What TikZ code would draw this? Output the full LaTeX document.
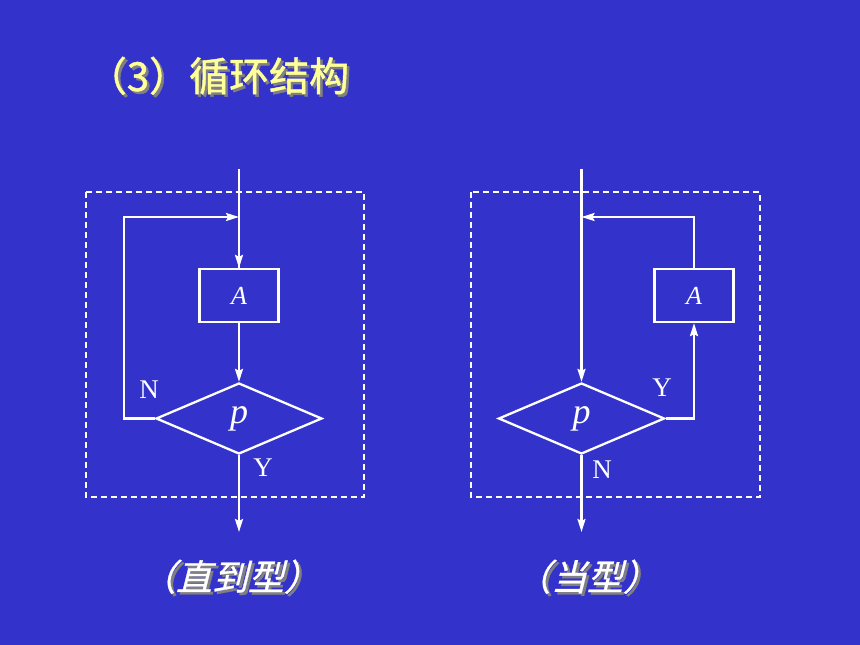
\documentclass[tikz,border=0pt]{standalone}
\usepackage{fontspec}
\setmainfont{Liberation Serif}
\newfontfamily\cjk[FakeBold=1.2]{Noto Sans CJK SC}
\newfontfamily\cjkit[FakeSlant=0.25,FakeBold=0.8]{Noto Sans CJK SC}
\usetikzlibrary{shapes.geometric,arrows.meta}
\definecolor{bgblue}{RGB}{51,51,204}
\definecolor{titleyellow}{RGB}{255,255,153}
\definecolor{shadowgray}{RGB}{128,128,128}
\newcommand{\shadowed}[2]{\makebox[0pt][l]{\hspace{2.5bp}\raisebox{-2.5bp}{\textcolor{shadowgray}{#2}}}\textcolor{#1}{#2}}
\tikzset{
  flow/.style={draw=white,line width=2.3bp},
  arr/.style={flow,-{Stealth[length=13bp,width=8bp,inset=2bp]}},
  procbox/.style={flow,rectangle,minimum width=79bp,minimum height=53bp,inner sep=0pt,text=white,font=\fontsize{26bp}{28bp}\selectfont\itshape},
  decide/.style={flow,diamond,minimum width=166bp,minimum height=71bp,inner sep=0pt,text=white,font=\fontsize{36bp}{38bp}\selectfont\itshape},
  yn/.style={text=white,inner sep=0pt,font=\fontsize{27bp}{29bp}\selectfont},
  frame/.style={draw=white,line width=1.6bp,dash pattern=on 6bp off 4bp},
  titletext/.style={inner sep=0pt,font=\cjk\fontsize{40bp}{42bp}\selectfont},
  captext/.style={inner sep=0pt,font=\cjkit\fontsize{36bp}{38bp}\selectfont},
}
\begin{document}
\begin{tikzpicture}[x=1bp,y=-1bp]
\fill[bgblue] (0,0) rectangle (860,645);
\useasboundingbox (0,0) rectangle (860,645);

% title
\node[titletext] (title) at (218,77) {\shadowed{titleyellow}{（3）循环结构}};

% captions
\node[captext] (c1) at (230,578) {\shadowed{white}{（直到型）}};
\node[captext] (c2) at (587,578) {\shadowed{white}{（当型）}};

% left diagram: do-until
\draw[frame] (86,192) rectangle (364,497);
\coordinate (L0) at (239,169);
\node[procbox] (A1) at (239,295.5) {A};
\node[decide] (p1) at (239,418.5) {p};
\coordinate (L1) at (124,217);
\coordinate (J1) at (239,217);
\coordinate (E1) at (239,532);
\draw[flow] (L0) -- (A1.north);
\draw[arr] (J1) -- (A1.north);
\draw[arr] (A1.south) -- (p1.north);
\draw[arr] (p1.west) -| (L1) -- (J1);
\draw[arr] (p1.south) -- (E1);
\node[yn] (N1) at (149,390) {N};
\node[yn] (Y1) at (263,468) {Y};

% right diagram: while
\draw[frame] (471,192) rectangle (760,497);
\coordinate (R0) at (581.5,169);
\node[decide] (p2) at (581.5,418.5) {p};
\node[procbox] (A2) at (694,295.5) {A};
\coordinate (J2) at (581.5,217);
\coordinate (E2) at (581.5,532);
\draw[arr] (R0) -- (p2.north);
\draw[arr] (p2.east) -| (A2.south);
\draw[arr] (A2.north) |- (J2);
\draw[arr] (p2.south) -- (E2);
\node[yn] (Y2) at (662,388) {Y};
\node[yn] (N2) at (602,470) {N};
\end{tikzpicture}
\end{document}
